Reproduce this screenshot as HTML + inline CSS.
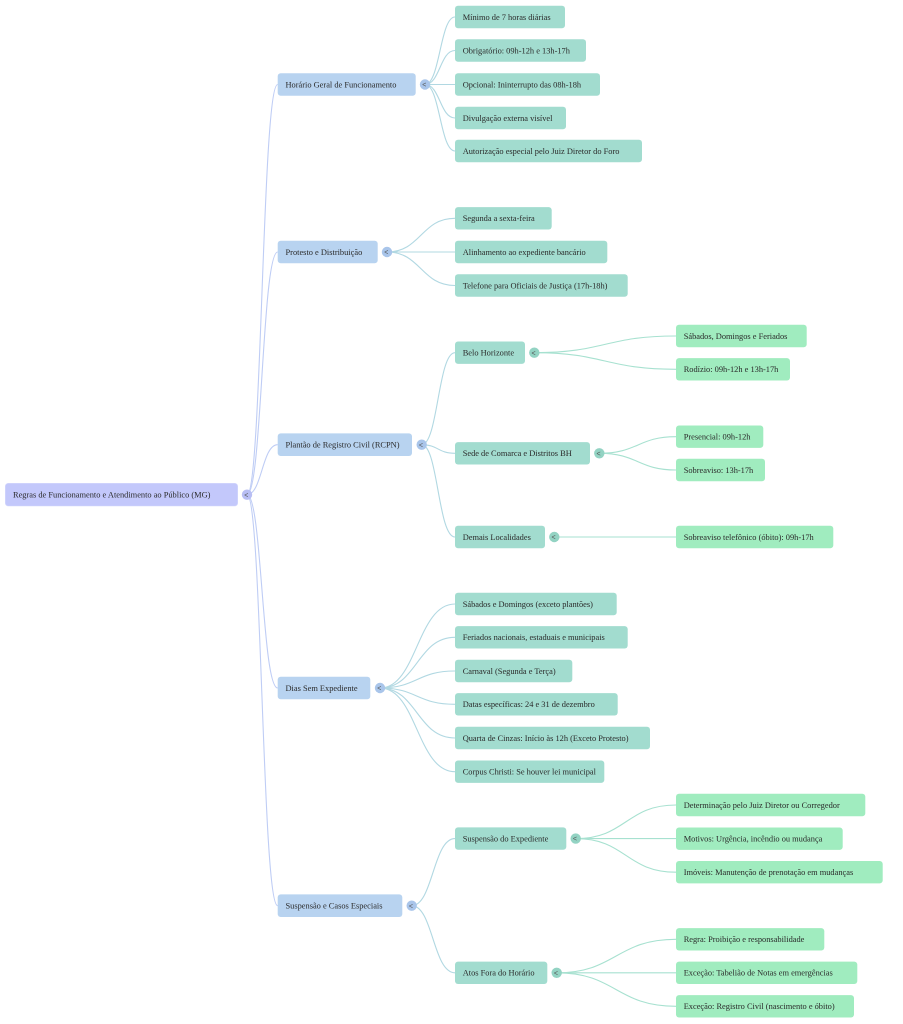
<!DOCTYPE html>
<html>
<head>
<meta charset="utf-8">
<style>
  html, body { margin: 0; padding: 0; background: #ffffff; }
  body { width: 903px; height: 1024px; overflow: hidden; position: relative; }
  svg { position: absolute; left: 0; top: 0; }
  text { font-family: "Liberation Serif", "Times New Roman", serif; font-size: 8.4px; fill: #2a2a2a; }
  .g { font-family: "Liberation Sans", sans-serif; font-size: 7px; fill: #555; }
</style>
</head>
<body>
<svg width="903" height="1024" viewBox="0 0 903 1024" xmlns="http://www.w3.org/2000/svg">
  <!-- Root -> level 1 connectors -->
  <g fill="none" stroke="#bfcdf5" stroke-width="1.1">
    <path d="M247 494.7 C262 494.7 262 84.5 277.7 84.5"/>
    <path d="M247 494.7 C262 494.7 262 252 277.7 252"/>
    <path d="M247 494.7 C262 494.7 262 444.7 277.7 444.7"/>
    <path d="M247 494.7 C262 494.7 262 688 277.7 688"/>
    <path d="M247 494.7 C262 494.7 262 905.7 277.7 905.7"/>
  </g>
  <!-- Level 1 -> level 2 connectors -->
  <g fill="none" stroke="#b1d8e2" stroke-width="1.1">
    <path d="M425 84.5 C440 84.5 440 17 455 17"/>
    <path d="M425 84.5 C440 84.5 440 50.5 455 50.5"/>
    <path d="M425 84.5 L455 84.5"/>
    <path d="M425 84.5 C440 84.5 440 118 455 118"/>
    <path d="M425 84.5 C440 84.5 440 151 455 151"/>

    <path d="M387 252 C421 252 421 218.3 455 218.3"/>
    <path d="M387 252 L455 252"/>
    <path d="M387 252 C421 252 421 285.5 455 285.5"/>

    <path d="M421.7 444.7 C438 444.7 438 352.7 455 352.7"/>
    <path d="M421.7 444.7 C438 444.7 438 453.3 455 453.3"/>
    <path d="M421.7 444.7 C438 444.7 438 537 455 537"/>

    <path d="M380 688 C417 688 417 604 455 604"/>
    <path d="M380 688 C417 688 417 637.3 455 637.3"/>
    <path d="M380 688 C417 688 417 671 455 671"/>
    <path d="M380 688 C417 688 417 704.3 455 704.3"/>
    <path d="M380 688 C417 688 417 738 455 738"/>
    <path d="M380 688 C417 688 417 771.7 455 771.7"/>

    <path d="M411.7 905.7 C433 905.7 433 838.6 455 838.6"/>
    <path d="M411.7 905.7 C433 905.7 433 972.8 455 972.8"/>
  </g>
  <!-- Level 2 -> level 3 connectors -->
  <g fill="none" stroke="#a7e1d0" stroke-width="1.1">
    <path d="M534.3 352.7 C605 352.7 605 336 676 336"/>
    <path d="M534.3 352.7 C605 352.7 605 369.3 676 369.3"/>
    <path d="M599.3 453.3 C638 453.3 638 436.7 676 436.7"/>
    <path d="M599.3 453.3 C638 453.3 638 470 676 470"/>
    <path d="M554.3 537 L676 537"/>
    <path d="M575.7 838.6 C626 838.6 626 805 676 805"/>
    <path d="M575.7 838.6 L676 838.6"/>
    <path d="M575.7 838.6 C626 838.6 626 872.2 676 872.2"/>
    <path d="M556.7 972.8 C616 972.8 616 939.3 676 939.3"/>
    <path d="M556.7 972.8 L676 972.8"/>
    <path d="M556.7 972.8 C616 972.8 616 1006.3 676 1006.3"/>
  </g>

  <!-- Root node -->
  <rect x="5.3" y="483.3" width="232.4" height="22.7" rx="3" fill="#c3c8fb" stroke="#d4d8fc" stroke-width="0.6"/>
  <text x="13" y="497.6">Regras de Funcionamento e Atendimento ao Público (MG)</text>
  <circle cx="247" cy="494.7" r="5.2" fill="#b8bef4"/>
  <text class="g" x="244.2" y="497.3">&lt;</text>

  <!-- Level 1 nodes -->
  <g>
    <rect x="277.7" y="73.2" width="138" height="22.6" rx="3" fill="#b8d3f0"/>
    <text x="285.5" y="87.4">Horário Geral de Funcionamento</text>
    <circle cx="425" cy="84.5" r="5.2" fill="#a9c5ea"/>
    <text class="g" x="422.2" y="87.1">&lt;</text>

    <rect x="277.7" y="240.7" width="100" height="22.6" rx="3" fill="#b8d3f0"/>
    <text x="285.5" y="254.9">Protesto e Distribuição</text>
    <circle cx="387" cy="252" r="5.2" fill="#a9c5ea"/>
    <text class="g" x="384.2" y="254.6">&lt;</text>

    <rect x="277.7" y="433.4" width="134.3" height="22.6" rx="3" fill="#b8d3f0"/>
    <text x="285.5" y="447.6">Plantão de Registro Civil (RCPN)</text>
    <circle cx="421.7" cy="444.7" r="5.2" fill="#a9c5ea"/>
    <text class="g" x="418.9" y="447.3">&lt;</text>

    <rect x="277.7" y="676.7" width="92.6" height="22.6" rx="3" fill="#b8d3f0"/>
    <text x="285.5" y="690.9">Dias Sem Expediente</text>
    <circle cx="380" cy="688" r="5.2" fill="#a9c5ea"/>
    <text class="g" x="377.2" y="690.6">&lt;</text>

    <rect x="277.7" y="894.4" width="124.6" height="22.6" rx="3" fill="#b8d3f0"/>
    <text x="285.5" y="908.6">Suspensão e Casos Especiais</text>
    <circle cx="411.7" cy="905.7" r="5.2" fill="#a9c5ea"/>
    <text class="g" x="408.9" y="908.3">&lt;</text>
  </g>

  <!-- Level 2 nodes (teal) -->
  <g>
    <rect x="455" y="5.8" width="110" height="22.4" rx="3" fill="#a2dccf"/>
    <text x="462.7" y="19.9">Mínimo de 7 horas diárias</text>
    <rect x="455" y="39.3" width="131" height="22.4" rx="3" fill="#a2dccf"/>
    <text x="462.7" y="53.4">Obrigatório: 09h-12h e 13h-17h</text>
    <rect x="455" y="73.3" width="145" height="22.4" rx="3" fill="#a2dccf"/>
    <text x="462.7" y="87.4">Opcional: Ininterrupto das 08h-18h</text>
    <rect x="455" y="106.8" width="111" height="22.4" rx="3" fill="#a2dccf"/>
    <text x="462.7" y="120.9">Divulgação externa visível</text>
    <rect x="455" y="139.8" width="187" height="22.4" rx="3" fill="#a2dccf"/>
    <text x="462.7" y="153.9">Autorização especial pelo Juiz Diretor do Foro</text>

    <rect x="455" y="207.1" width="96.7" height="22.4" rx="3" fill="#a2dccf"/>
    <text x="462.7" y="221.2">Segunda a sexta-feira</text>
    <rect x="455" y="240.8" width="152.3" height="22.4" rx="3" fill="#a2dccf"/>
    <text x="462.7" y="254.9">Alinhamento ao expediente bancário</text>
    <rect x="455" y="274.3" width="172.7" height="22.4" rx="3" fill="#a2dccf"/>
    <text x="462.7" y="288.4">Telefone para Oficiais de Justiça (17h-18h)</text>

    <rect x="455" y="341.5" width="70" height="22.4" rx="3" fill="#a2dccf"/>
    <text x="462.7" y="355.6">Belo Horizonte</text>
    <circle cx="534.3" cy="352.7" r="5.2" fill="#93d3c3"/>
    <text class="g" x="531.5" y="355.3">&lt;</text>
    <rect x="455" y="442.1" width="135" height="22.4" rx="3" fill="#a2dccf"/>
    <text x="462.7" y="456.2">Sede de Comarca e Distritos BH</text>
    <circle cx="599.3" cy="453.3" r="5.2" fill="#93d3c3"/>
    <text class="g" x="596.5" y="455.9">&lt;</text>
    <rect x="455" y="525.8" width="90" height="22.4" rx="3" fill="#a2dccf"/>
    <text x="462.7" y="539.9">Demais Localidades</text>
    <circle cx="554.3" cy="537" r="5.2" fill="#93d3c3"/>
    <text class="g" x="551.5" y="539.6">&lt;</text>

    <rect x="455" y="592.8" width="161.7" height="22.4" rx="3" fill="#a2dccf"/>
    <text x="462.7" y="606.9">Sábados e Domingos (exceto plantões)</text>
    <rect x="455" y="626.1" width="172.7" height="22.4" rx="3" fill="#a2dccf"/>
    <text x="462.7" y="640.2">Feriados nacionais, estaduais e municipais</text>
    <rect x="455" y="659.8" width="117.3" height="22.4" rx="3" fill="#a2dccf"/>
    <text x="462.7" y="673.9">Carnaval (Segunda e Terça)</text>
    <rect x="455" y="693.1" width="162.7" height="22.4" rx="3" fill="#a2dccf"/>
    <text x="462.7" y="707.2">Datas específicas: 24 e 31 de dezembro</text>
    <rect x="455" y="726.8" width="195" height="22.4" rx="3" fill="#a2dccf"/>
    <text x="462.7" y="740.9">Quarta de Cinzas: Início às 12h (Exceto Protesto)</text>
    <rect x="455" y="760.5" width="149.3" height="22.4" rx="3" fill="#a2dccf"/>
    <text x="462.7" y="774.6">Corpus Christi: Se houver lei municipal</text>

    <rect x="455" y="827.4" width="111.3" height="22.4" rx="3" fill="#a2dccf"/>
    <text x="462.7" y="841.5">Suspensão do Expediente</text>
    <circle cx="575.7" cy="838.6" r="5.2" fill="#93d3c3"/>
    <text class="g" x="572.9" y="841.2">&lt;</text>
    <rect x="455" y="961.6" width="92.3" height="22.4" rx="3" fill="#a2dccf"/>
    <text x="462.7" y="975.7">Atos Fora do Horário</text>
    <circle cx="556.7" cy="972.8" r="5.2" fill="#93d3c3"/>
    <text class="g" x="553.9" y="975.4">&lt;</text>
  </g>

  <!-- Level 3 nodes (green) -->
  <g>
    <rect x="676" y="324.8" width="130.7" height="22.4" rx="3" fill="#a0ecbf"/>
    <text x="683.7" y="338.9">Sábados, Domingos e Feriados</text>
    <rect x="676" y="358.1" width="114" height="22.4" rx="3" fill="#a0ecbf"/>
    <text x="683.7" y="372.2">Rodízio: 09h-12h e 13h-17h</text>

    <rect x="676" y="425.5" width="87.3" height="22.4" rx="3" fill="#a0ecbf"/>
    <text x="683.7" y="439.6">Presencial: 09h-12h</text>
    <rect x="676" y="458.8" width="89" height="22.4" rx="3" fill="#a0ecbf"/>
    <text x="683.7" y="472.9">Sobreaviso: 13h-17h</text>

    <rect x="676" y="525.8" width="157.3" height="22.4" rx="3" fill="#a0ecbf"/>
    <text x="683.7" y="539.9">Sobreaviso telefônico (óbito): 09h-17h</text>

    <rect x="676" y="793.8" width="189.3" height="22.4" rx="3" fill="#a0ecbf"/>
    <text x="683.7" y="807.9">Determinação pelo Juiz Diretor ou Corregedor</text>
    <rect x="676" y="827.5" width="166.7" height="22.4" rx="3" fill="#a0ecbf"/>
    <text x="683.7" y="841.6">Motivos: Urgência, incêndio ou mudança</text>
    <rect x="676" y="861" width="206.7" height="22.4" rx="3" fill="#a0ecbf"/>
    <text x="683.7" y="875.1">Imóveis: Manutenção de prenotação em mudanças</text>

    <rect x="676" y="928.1" width="148.3" height="22.4" rx="3" fill="#a0ecbf"/>
    <text x="683.7" y="942.2">Regra: Proibição e responsabilidade</text>
    <rect x="676" y="961.6" width="181.3" height="22.4" rx="3" fill="#a0ecbf"/>
    <text x="683.7" y="975.7">Exceção: Tabelião de Notas em emergências</text>
    <rect x="676" y="995.1" width="178" height="22.4" rx="3" fill="#a0ecbf"/>
    <text x="683.7" y="1009.2">Exceção: Registro Civil (nascimento e óbito)</text>
  </g>
</svg>
</body>
</html>
